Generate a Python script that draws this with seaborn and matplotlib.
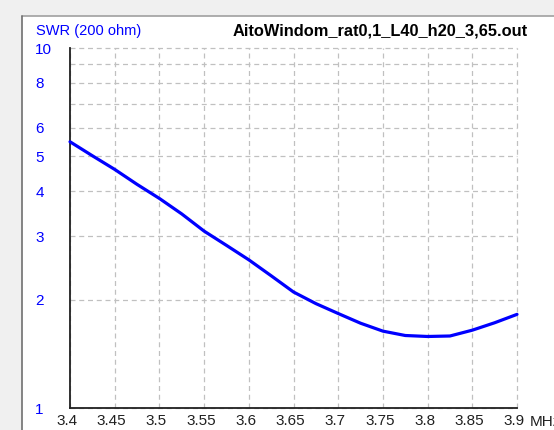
import numpy as np
import pandas as pd
import seaborn as sns
import matplotlib
matplotlib.use("Agg")
import matplotlib.pyplot as plt
from matplotlib.patches import Rectangle
from matplotlib.lines import Line2D
from matplotlib.ticker import NullLocator, FixedLocator
import matplotlib.transforms as mtransforms

# ---- data ----
freq_mhz = [3.4, 3.425, 3.45, 3.475, 3.5, 3.525, 3.55, 3.575, 3.6, 3.625,
            3.65, 3.675, 3.7, 3.725, 3.75, 3.775, 3.8, 3.825, 3.85, 3.875, 3.9]
swr = [5.49, 5.02, 4.60, 4.18, 3.82, 3.46, 3.10, 2.83, 2.58, 2.33,
       2.10, 1.95, 1.83, 1.72, 1.635, 1.59, 1.58, 1.585, 1.645, 1.725, 1.82]
x_ticks = [3.4, 3.45, 3.5, 3.55, 3.6, 3.65, 3.7, 3.75, 3.8, 3.85, 3.9]
x_tick_labels = ["3.4", "3.45", "3.5", "3.55", "3.6", "3.65", "3.7", "3.75", "3.8", "3.85", "3.9"]
y_ticks = [1, 2, 3, 4, 5, 6, 7, 8, 9, 10]
y_tick_labels = ["1", "2", "3", "4", "5", "6", "", "8", "", "10"]
title_text = "AitoWindom_rat0,1_L40_h20_3,65.out"
ylabel_text = "SWR (200 ohm)"
xunit_text = "MHz"

df = pd.DataFrame({"freq": freq_mhz, "swr": swr})

sns.set_style("white")
plt.rcParams["font.family"] = ["Liberation Sans", "DejaVu Sans"]

W, H = 554, 430
fig = plt.figure(figsize=(W / 100, H / 100), dpi=100, facecolor="#f0f0f0")

# white panel with border
fig.patches.append(Rectangle((22 / W, 0), 1, 1 - 16 / H, transform=fig.transFigure,
                             facecolor="white", edgecolor="none", zorder=-10))
fig.lines.append(Line2D([22 / W, 1], [1 - 16 / H, 1 - 16 / H], transform=fig.transFigure,
                        color="#a0a0a0", lw=1.2, zorder=-5))
fig.lines.append(Line2D([22 / W, 22 / W], [0, 1 - 16 / H], transform=fig.transFigure,
                        color="#707070", lw=1.2, zorder=-5))

left, right, bottom, top = 70, 517, 408, 48
ax = fig.add_axes([left / W, (H - bottom) / H, (right - left) / W, (bottom - top) / H])
ax.set_zorder(1)
ax.set_facecolor("white")

sns.lineplot(data=df, x="freq", y="swr", ax=ax, color="#0000ff", linewidth=2.3,
             clip_on=False, zorder=5)

ax.set_yscale("log")
ax.set_ylim(1, 10)
ax.set_xlim(3.4, 3.9)
ax.yaxis.set_major_locator(FixedLocator(y_ticks))
ax.yaxis.set_minor_locator(NullLocator())
ax.set_yticklabels(y_tick_labels)
ax.set_xticks(x_ticks)
ax.set_xticklabels(x_tick_labels)
ax.set_xlabel("")
ax.set_ylabel("")

ax.grid(True, color="#c0c0c0", linestyle=(0, (4, 3)), linewidth=0.9)
for gl in ax.get_xgridlines() + ax.get_ygridlines():
    gl.set_clip_on(False)

for s in ["top", "right"]:
    ax.spines[s].set_visible(False)
for s in ["left", "bottom"]:
    ax.spines[s].set_color("#202020")
    ax.spines[s].set_linewidth(1.3)

ax.tick_params(axis="both", length=0)
ax.tick_params(axis="y", pad=25, labelsize=11, labelcolor="#0000ff")
ax.tick_params(axis="x", pad=4, labelsize=11, labelcolor="#202020")
for lbl in ax.get_yticklabels():
    lbl.set_horizontalalignment("left")
offset = mtransforms.ScaledTranslation(-3 / 100, 0, fig.dpi_scale_trans)
for lbl in ax.get_xticklabels():
    lbl.set_transform(lbl.get_transform() + offset)

fig.text(36 / W, 1 - 31 / H, ylabel_text, color="#0000ff", fontsize=10.5,
         ha="left", va="center")
fig.text(528 / W, 1 - 31 / H, title_text, color="black", fontsize=11.8,
         fontweight="bold", ha="right", va="center")
fig.text(530 / W, 1 - 422 / H, xunit_text, color="#202020", fontsize=11,
         ha="left", va="center")

fig.savefig("out.png", dpi=100, facecolor=fig.get_facecolor())
